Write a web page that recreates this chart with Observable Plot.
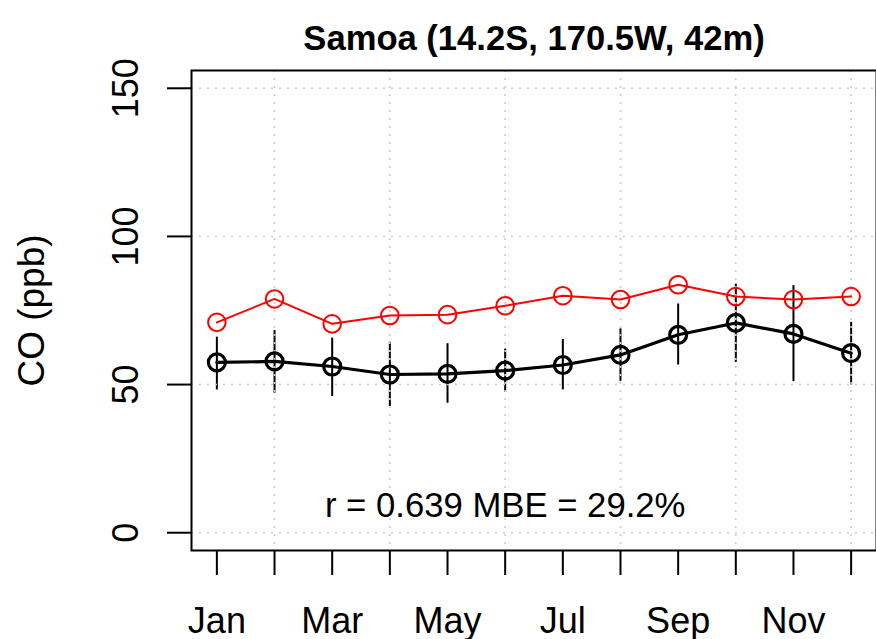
<!DOCTYPE html>
<html>
<head>
<meta charset="utf-8">
<script src="https://cdn.jsdelivr.net/npm/d3@7"></script>
<script src="https://cdn.jsdelivr.net/npm/@observablehq/plot@0.6"></script>
<style>
  html, body { margin: 0; padding: 0; background: white; }
</style>
</head>
<body>
<div id="chart"></div>
<script>
// ---- data ----
const monthLabels = ["Jan","Feb","Mar","Apr","May","Jun","Jul","Aug","Sep","Oct","Nov","Dec"];
const monthNums = [1,2,3,4,5,6,7,8,9,10,11,12];
const obsMean = [57.5, 57.8, 56.1, 53.4, 53.6, 54.7, 56.6, 60.0, 66.8, 70.8, 67.1, 60.6];
const obsHigh = [66.0, 68.2, 65.7, 64.3, 63.8, 62.0, 65.2, 68.8, 77.2, 83.9, 83.4, 71.0];
const obsLow  = [48.2, 47.1, 46.0, 42.6, 43.7, 47.4, 48.2, 51.1, 56.6, 57.5, 51.0, 49.9];
const modelMean = [71.0, 78.9, 70.5, 73.3, 73.6, 76.6, 80.0, 78.7, 83.7, 79.7, 78.7, 79.7];
const yTicks = [0, 50, 100, 150];
const xGrid = [2, 4, 6, 8, 10, 12];
const titleText = ["Samoa (14.2S, 170.5W, 42m)"];
const yLabel = ["CO (ppb)"];
const statsText = ["r = 0.639 MBE = 29.2%"];

const obs = monthNums.map((m, i) => ({month: m, value: obsMean[i], lo: obsLow[i], hi: obsHigh[i]}));
const model = monthNums.map((m, i) => ({month: m, value: modelMean[i]}));

const font = "'Liberation Sans', Arial, Helvetica, sans-serif";

const chart = Plot.plot({
  width: 876,
  height: 639,
  marginLeft: 191,
  marginRight: 0,
  marginTop: 70,
  marginBottom: 89,
  x: {type: "linear", domain: [0.56, 12.44]},
  y: {type: "linear", domain: [-6, 156]},
  style: {fontFamily: font, fontSize: "36px", background: "white", color: "black"},
  marks: [
    // error bars
    Plot.ruleX(obs, {x: "month", y1: "lo", y2: "hi", stroke: "black", strokeWidth: 2}),
    // grid (drawn over error bars, as in the original)
    Plot.ruleY(yTicks, {stroke: "#cccccc", strokeWidth: 1.6, strokeDasharray: "2,6"}),
    Plot.ruleX(xGrid, {stroke: "#cccccc", strokeWidth: 1.6, strokeDasharray: "2,6"}),
    // series
    Plot.line(model, {x: "month", y: "value", stroke: "red", strokeWidth: 2}),
    Plot.dot(model, {x: "month", y: "value", r: 8.8, stroke: "red", strokeWidth: 2, fill: "none"}),
    Plot.line(obs, {x: "month", y: "value", stroke: "black", strokeWidth: 3.2}),
    Plot.dot(obs, {x: "month", y: "value", r: 8.5, stroke: "black", strokeWidth: 3.2, fill: "none"}),
    // box
    Plot.frame({stroke: "black", strokeWidth: 2}),
    // axes
    Plot.axisX({
      ticks: monthNums,
      tickFormat: d => (d % 2 === 1 ? monthLabels[d - 1] : ""),
      tickSize: 25, tickPadding: 32, strokeWidth: 2, fontSize: 36, label: null
    }),
    Plot.axisY({
      ticks: yTicks, tickFormat: () => "", tickSize: 24, tickPadding: 0, strokeWidth: 2, label: null
    }),
    Plot.text(yTicks, {
      y: d => d, text: d => String(d), frameAnchor: "left", dx: -54,
      rotate: -90, textAnchor: "middle", lineAnchor: "bottom", fontSize: 36
    }),
    // y label
    Plot.text(yLabel, {
      text: d => d, frameAnchor: "left", dx: -148, rotate: -90,
      textAnchor: "middle", lineAnchor: "bottom", fontSize: 37
    }),
    // title
    Plot.text(titleText, {
      text: d => d, frameAnchor: "top", dy: -20.5, lineAnchor: "bottom",
      fontWeight: "bold", fontSize: 34.6
    }),
    // stats
    Plot.text(statsText, {text: d => d, x: 6, y: 9, lineAnchor: "middle", fontSize: 34.7})
  ]
});

document.getElementById("chart").appendChild(chart);
</script>
</body>
</html>
